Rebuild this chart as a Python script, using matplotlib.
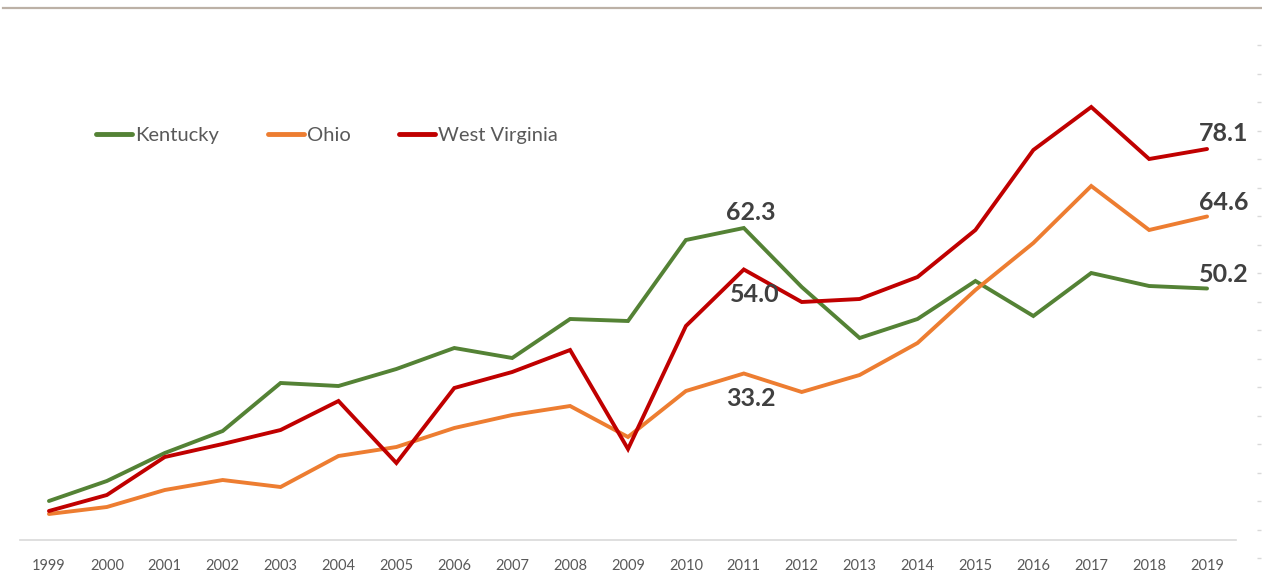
#!/usr/bin/env python3
"""
Kentucky / Ohio / West Virginia trend lines, 1999-2019.
"""

import numpy as np
import matplotlib.pyplot as plt
from matplotlib.lines import Line2D

plt.rcParams['font.family'] = ['Lato', 'DejaVu Sans']

years = list(range(1999, 2020))

kentucky = [7.7, 11.7, 17.3, 21.7, 31.3, 30.7, 34.1, 38.3, 36.3, 44.1, 43.7,
            59.9, 62.3, 50.5, 40.3, 44.1, 51.7, 44.7, 53.3, 50.7, 50.2]
ohio = [5.1, 6.5, 9.9, 11.9, 10.5, 16.7, 18.5, 22.3, 24.9, 26.7, 20.5,
        29.7, 33.2, 29.5, 32.9, 39.3, 49.9, 59.3, 70.7, 61.9, 64.6]
west_virginia = [5.7, 8.9, 16.5, 19.1, 21.9, 27.7, 15.3, 30.3, 33.5, 37.9, 18.1,
                 42.7, 54.0, 47.5, 48.1, 52.5, 61.9, 77.9, 86.5, 76.1, 78.1]

series = [('Kentucky', kentucky, '#548235'),
          ('Ohio', ohio, '#ed7d31'),
          ('West Virginia', west_virginia, '#c00000')]

W, H = 1262, 571
fig = plt.figure(figsize=(W / 100, H / 100), dpi=100)

# main plot area (pixel box converted to figure fractions)
left, right = 20, 1236
top, bottom = 39.5, 539.5
ax = fig.add_axes([left / W, (H - bottom) / H, (right - left) / W, (bottom - top) / H])

for name, vals, color in series:
    ax.plot(years, vals, color=color, linewidth=2.8, label=name,
            solid_capstyle='round', solid_joinstyle='miter')

ax.set_xlim(1998.5, 2019.5)
ax.set_ylim(0, 100)
ax.set_xticks(years)
ax.set_xticklabels([str(y) for y in years], fontsize=10.5, color='#595959')
ax.tick_params(axis='x', length=0, pad=14)
ax.set_yticks([])
for s in ['top', 'right', 'left']:
    ax.spines[s].set_visible(False)
ax.spines['bottom'].set_color('#d9d9d9')
ax.spines['bottom'].set_linewidth(1.2)

# data labels
lab = dict(fontsize=18, fontweight='bold', color='#404040')
ax.annotate('78.1', (2019, west_virginia[-1]), xytext=(-8, 4), textcoords='offset pixels',
            ha='left', va='bottom', **lab)
ax.annotate('64.6', (2019, ohio[-1]), xytext=(-8, 3), textcoords='offset pixels',
            ha='left', va='bottom', **lab)
ax.annotate('50.2', (2019, kentucky[-1]), xytext=(-8, 3), textcoords='offset pixels',
            ha='left', va='bottom', **lab)
ax.annotate('62.3', (2011, kentucky[12]), xytext=(7, 4), textcoords='offset pixels',
            ha='center', va='bottom', **lab)
ax.annotate('54.0', (2011, west_virginia[12]), xytext=(11, -14), textcoords='offset pixels',
            ha='center', va='top', **lab)
ax.annotate('33.2', (2011, ohio[12]), xytext=(7, -14), textcoords='offset pixels',
            ha='center', va='top', **lab)

leg = ax.legend(loc='upper left', bbox_to_anchor=(58 / (right - left), 0.862), ncol=3,
                frameon=False, fontsize=14.5, handlelength=1.8, handletextpad=0.15,
                columnspacing=2.4, labelcolor='#595959')
for h in leg.get_lines():
    h.set_linewidth(3.5)

# faint tick marks along the right edge
rax = fig.add_axes([1240 / W, (H - 558) / H, 17 / W, (558 - 45) / H])
rax.set_ylim(0, 18)
rax.set_yticks(np.arange(0, 19))
rax.set_yticklabels([])
rax.yaxis.tick_right()
rax.tick_params(axis='y', length=3, width=1, color='#d9d9d9', direction='out')
rax.set_xticks([])
for s in rax.spines.values():
    s.set_visible(False)
rax.patch.set_visible(False)

# thin border line along the top
fig.add_artist(Line2D([3 / W, 1.0], [1 - 7.5 / H, 1 - 7.5 / H], color='#bcb1a6',
                      linewidth=1.6, transform=fig.transFigure))

plt.savefig('out.png', dpi=100)
